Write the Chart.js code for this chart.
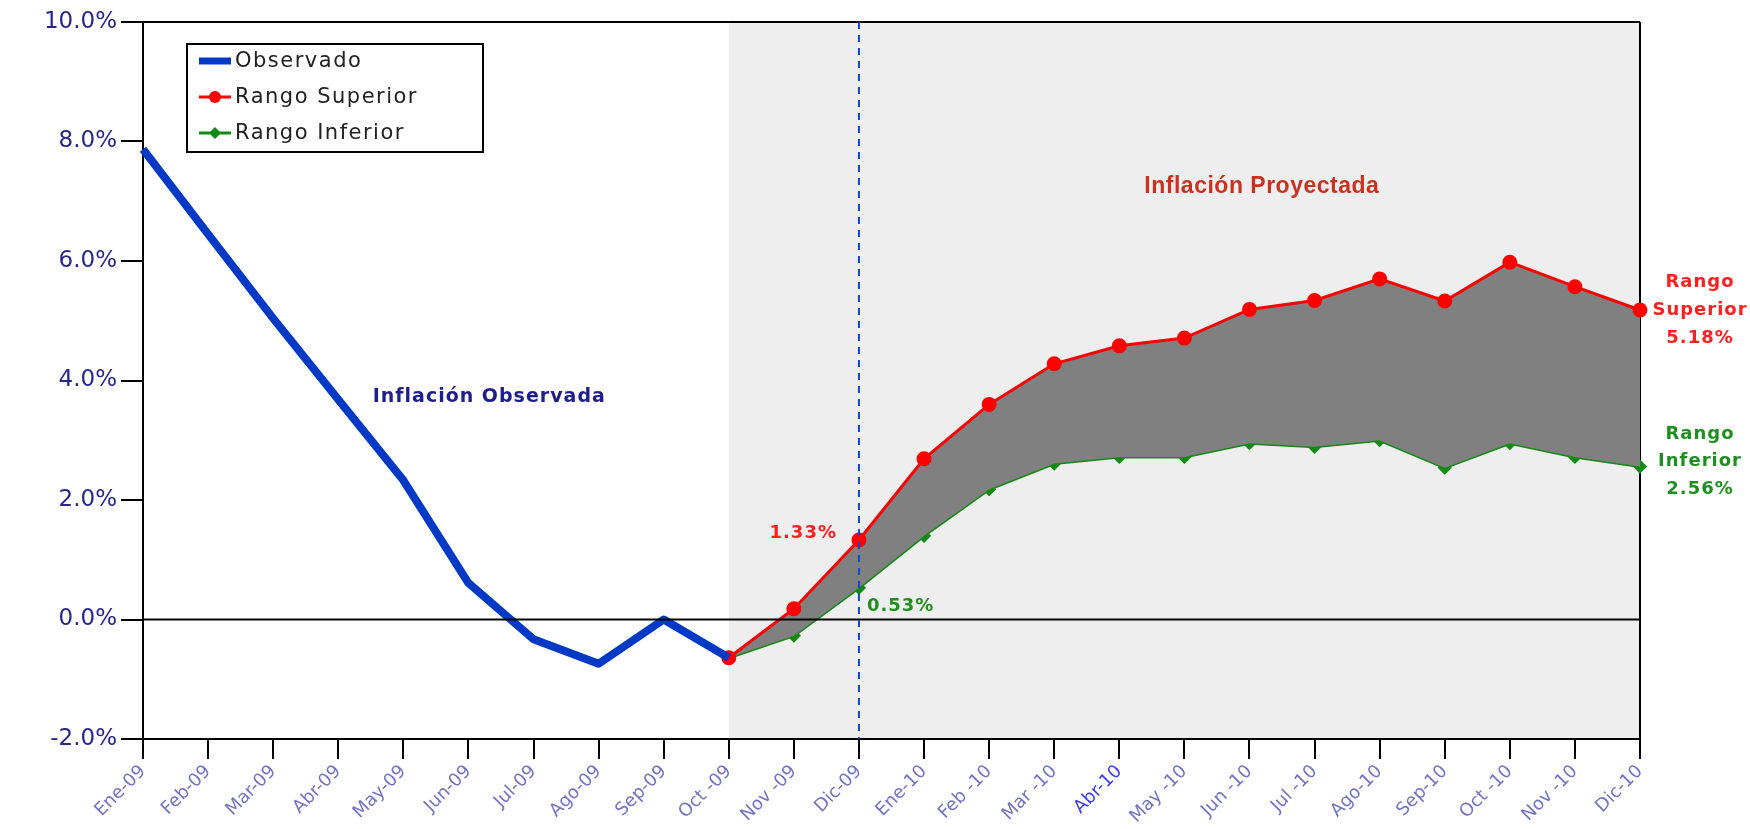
<!DOCTYPE html>
<html>
<head>
<meta charset="utf-8">
<script src="https://cdn.jsdelivr.net/npm/chart.js@4.4.1/dist/chart.umd.min.js"></script>
<style>
  body { margin: 0; background: #fff; }
  #wrap { width: 1750px; height: 829px; position: relative; }
</style>
</head>
<body>
<div id="wrap"><canvas id="myChart"></canvas></div>
<script>
const meses = ["Ene-09", "Feb-09", "Mar-09", "Abr-09", "May-09", "Jun-09", "Jul-09", "Ago-09", "Sep-09", "Oct -09", "Nov -09", "Dic-09",
    "Ene-10", "Feb -10", "Mar -10", "Abr-10", "May -10", "Jun -10", "Jul -10", "Ago-10", "Sep-10", "Oct -10", "Nov -10", "Dic-10"];
const observado = [7.87, 6.45, 5.04, 3.68, 2.33, 0.61, -0.33, -0.74, 0.0, -0.64,
    null, null, null, null, null, null, null, null, null, null, null, null, null, null];
const rangoSuperior = [null, null, null, null, null, null, null, null, null, -0.64, 0.18, 1.33,
    2.69, 3.60, 4.28, 4.58, 4.71, 5.19, 5.34, 5.70, 5.33, 5.98, 5.57, 5.18];
const rangoInferior = [null, null, null, null, null, null, null, null, null, -0.64, -0.27, 0.53,
    1.40, 2.18, 2.61, 2.72, 2.72, 2.95, 2.89, 3.00, 2.54, 2.95, 2.72, 2.56];
const ejeY = [-2, 0, 2, 4, 6, 8, 10];

const inicioProyeccion = 9;   // Oct-09
const marcaDic = 11;          // Dic-09

const fondoPlugin = {
    id: 'fondo',
    beforeDraw(chart) {
        const {ctx, chartArea, scales} = chart;
        const x0 = scales.x.getPixelForValue(inicioProyeccion);
        ctx.save();
        ctx.fillStyle = '#eeeeee';
        ctx.fillRect(x0, chartArea.top, chartArea.right - x0, chartArea.bottom - chartArea.top);
        ctx.restore();
    },
    afterDatasetsDraw(chart) {
        const {ctx, chartArea, scales} = chart;
        ctx.save();
        // linea del cero
        const y0 = scales.y.getPixelForValue(0);
        ctx.strokeStyle = '#000';
        ctx.lineWidth = 2;
        ctx.beginPath();
        ctx.moveTo(chartArea.left, y0);
        ctx.lineTo(chartArea.right, y0);
        ctx.stroke();
        // linea punteada Dic-09
        const xd = scales.x.getPixelForValue(marcaDic);
        ctx.strokeStyle = '#0a4ad6';
        ctx.lineWidth = 2;
        ctx.setLineDash([7, 6]);
        ctx.beginPath();
        ctx.moveTo(xd, chartArea.top);
        ctx.lineTo(xd, chartArea.bottom);
        ctx.stroke();
        ctx.setLineDash([]);

        // textos
        const px = v => scales.x.getPixelForValue(v);
        const py = v => scales.y.getPixelForValue(v);
        ctx.textBaseline = 'middle';
        ctx.textAlign = 'center';
        ctx.letterSpacing = '1px';
        ctx.fillStyle = '#1e1e8c';
        ctx.font = 'bold 19px "DejaVu Sans"';
        ctx.fillText('Inflación Observada', px(5.32), py(3.72));
        ctx.fillStyle = '#c8321e';
        ctx.letterSpacing = '0.5px';
        ctx.font = 'bold 23px "Liberation Sans Narrow", "Liberation Sans"';
        ctx.fillText('Inflación Proyectada', px(17.19), py(7.24));

        ctx.letterSpacing = '1px';
        ctx.font = 'bold 18px "DejaVu Sans"';
        ctx.fillStyle = '#ff2020';
        ctx.textAlign = 'right';
        ctx.fillText(rangoSuperior[marcaDic].toFixed(2) + '%', px(marcaDic) - 22, py(rangoSuperior[marcaDic]) - 7);
        ctx.fillStyle = '#1f8f1f';
        ctx.textAlign = 'left';
        ctx.fillText(rangoInferior[marcaDic].toFixed(2) + '%', px(marcaDic) + 8, py(rangoInferior[marcaDic]) + 18);

        const last = meses.length - 1;
        const xr = chartArea.right + 60;
        ctx.textAlign = 'center';
        ctx.fillStyle = '#ff2020';
        let yr = py(rangoSuperior[last]);
        ctx.fillText('Rango', xr, yr - 28);
        ctx.fillText('Superior', xr, yr);
        ctx.fillText(rangoSuperior[last].toFixed(2) + '%', xr, yr + 28);
        ctx.fillStyle = '#1f8f1f';
        yr = py(rangoInferior[last]);
        ctx.fillText('Rango', xr, yr - 32);
        ctx.fillText('Inferior', xr, yr - 5);
        ctx.fillText(rangoInferior[last].toFixed(2) + '%', xr, yr + 23);
        ctx.restore();
    },
    afterDraw(chart) {
        // leyenda con recuadro
        const {ctx, chartArea} = chart;
        const lx = chartArea.left + 44, ly = chartArea.top + 22, lw = 296, lh = 108;
        ctx.save();
        ctx.fillStyle = '#fff';
        ctx.fillRect(lx, ly, lw, lh);
        ctx.strokeStyle = '#000';
        ctx.lineWidth = 2;
        ctx.strokeRect(lx, ly, lw, lh);
        const items = chart.data.datasets;
        ctx.font = '21px "DejaVu Sans"';
        ctx.letterSpacing = '1.5px';
        ctx.textBaseline = 'middle';
        ctx.textAlign = 'left';
        items.forEach((ds, i) => {
            const y = ly + 17 + i * 36;
            const xa = lx + 12, xb = lx + 44;
            ctx.strokeStyle = ds.borderColor;
            ctx.lineWidth = i === 0 ? 7 : 3;
            ctx.beginPath();
            ctx.moveTo(xa, y);
            ctx.lineTo(xb, y);
            ctx.stroke();
            ctx.fillStyle = ds.borderColor;
            const xm = (xa + xb) / 2;
            if (i === 1) {
                ctx.beginPath();
                ctx.arc(xm, y, 6, 0, Math.PI * 2);
                ctx.fill();
            } else if (i === 2) {
                ctx.beginPath();
                ctx.moveTo(xm, y - 6);
                ctx.lineTo(xm + 6, y);
                ctx.lineTo(xm, y + 6);
                ctx.lineTo(xm - 6, y);
                ctx.closePath();
                ctx.fill();
            }
            ctx.fillStyle = '#222';
            ctx.fillText(ds.label, xb + 4, y + 1);
        });
        ctx.restore();
    }
};

const data = {
    labels: meses,
    datasets: [{
        label: 'Observado',
        data: observado,
        borderColor: '#0039c6',
        backgroundColor: '#0039c6',
        borderWidth: 8,
        pointRadius: 0,
        borderJoinStyle: 'round',
        fill: false
    }, {
        label: 'Rango Superior',
        data: rangoSuperior,
        borderColor: '#ff0000',
        backgroundColor: '#808080',
        pointBackgroundColor: '#ff0000',
        pointBorderColor: '#ff0000',
        borderWidth: 3,
        pointStyle: 'circle',
        pointRadius: 6,
        fill: '+1'
    }, {
        label: 'Rango Inferior',
        data: rangoInferior,
        borderColor: '#138a13',
        backgroundColor: '#138a13',
        pointBackgroundColor: '#138a13',
        pointBorderColor: '#138a13',
        borderWidth: 3,
        pointStyle: 'rectRot',
        pointRadius: 5,
        fill: false
    }]
};

const config = {
    type: 'line',
    data: data,
    options: {
        responsive: true,
        maintainAspectRatio: false,
        animation: false,
        layout: { padding: { top: 22, right: 110, left: 0, bottom: 0 } },
        plugins: {
            legend: { display: false },
            tooltip: { enabled: false }
        },
        scales: {
            x: {
                offset: false,
                afterFit: s => { s.height = 90; },
                grid: {
                    drawOnChartArea: true,
                    color: c => c.index === meses.length - 1 ? '#000' : 'transparent',
                    tickColor: '#000',
                    tickLength: 20,
                    lineWidth: 2
                },
                border: { display: true, color: '#000', width: 2 },
                ticks: {
                    autoSkip: false,
                    minRotation: 45,
                    maxRotation: 45,
                    padding: 2,
                    color: c => c.tick && c.tick.label === 'Abr-10' ? '#3c3cf0' : '#7373c4',
                    font: { family: '"DejaVu Sans"', size: 18 }
                }
            },
            y: {
                min: ejeY[0],
                max: ejeY[ejeY.length - 1],
                afterFit: s => { s.width = 143; },
                afterBuildTicks: s => { s.ticks = ejeY.map(v => ({ value: v })); },
                grid: {
                    drawOnChartArea: true,
                    color: c => c.tick && c.tick.value === 10 ? '#000' : 'transparent',
                    tickColor: '#000',
                    tickLength: 22,
                    lineWidth: 2
                },
                border: { display: true, color: '#000', width: 2 },
                ticks: {
                    padding: 4,
                    color: '#27278a',
                    font: { family: '"DejaVu Sans"', size: 23 },
                    callback: v => v.toFixed(1) + '%'
                }
            }
        }
    },
    plugins: [fondoPlugin]
};

const myChart = new Chart(document.getElementById('myChart'), config);
</script>
</body>
</html>
